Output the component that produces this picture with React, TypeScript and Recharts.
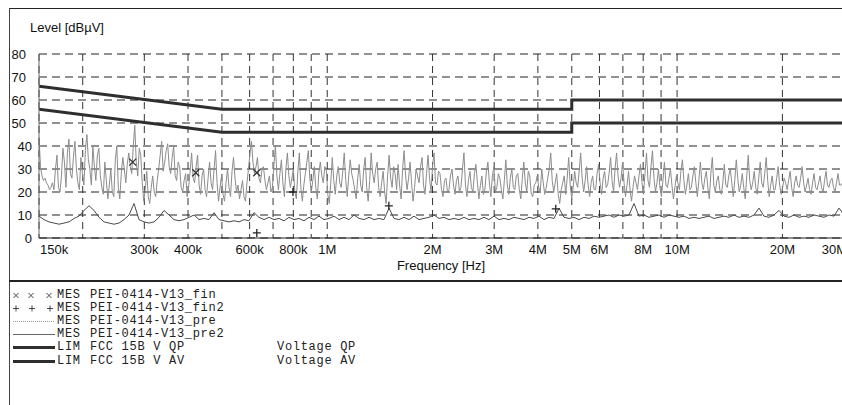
import React from "react";
import { CartesianGrid, ComposedChart, Line, XAxis, YAxis } from "recharts";

// sweep range of the receiver, kHz
const F_START = 150;
const F_STOP = 30000;

// PEI-0414-V13_pre (peak prescan), dBµV, read left to right over the sweep
const PRE_LEVELS = [
  44, 31, 27, 25, 26, 24, 23, 21, 22, 24, 21, 30, 36, 22, 20, 27, 39, 33, 22, 37,
  43, 28, 26, 35, 42, 30, 24, 21, 35, 28, 23, 38, 45, 34, 30, 23, 40, 31, 25, 36,
  39, 27, 22, 19, 33, 25, 17, 23, 30, 20, 18, 34, 40, 22, 17, 28, 35, 30, 24, 32,
  37, 31, 28, 40, 49, 33, 27, 39, 36, 24, 16, 21, 29, 18, 15, 22, 27, 20, 18, 25,
  30, 36, 42, 29, 33, 38, 41, 31, 28, 35, 40, 27, 25, 33, 31, 22, 20, 25, 28, 18,
  22, 29, 37, 26, 24, 31, 36, 23, 19, 27, 30, 21, 18, 26, 33, 24, 21, 30, 38, 24,
  16, 22, 27, 19, 16, 24, 30, 22, 18, 29, 35, 26, 20, 23, 17, 21, 25, 18, 16, 24,
  30, 37, 42, 33, 28, 31, 35, 26, 24, 30, 31, 25, 21, 24, 27, 20, 22, 32, 40, 27,
  21, 28, 34, 24, 18, 30, 37, 27, 22, 26, 30, 20, 17, 29, 37, 22, 16, 23, 28, 33,
  38, 26, 20, 25, 31, 22, 17, 28, 33, 27, 24, 31, 30, 19, 15, 24, 35, 25, 19, 27,
  31, 24, 22, 29, 37, 25, 18, 27, 34, 28, 25, 21, 17, 26, 32, 23, 20, 30, 35, 22,
  16, 25, 37, 28, 24, 30, 33, 22, 18, 24, 29, 20, 15, 27, 36, 26, 22, 31, 28, 21,
  32, 23, 17, 30, 38, 27, 21, 26, 33, 24, 16, 22, 30, 27, 24, 31, 35, 23, 19, 28,
  36, 26, 20, 31, 37, 24, 23, 29, 28, 21, 18, 25, 26, 20, 21, 27, 30, 23, 19, 25,
  27, 20, 22, 30, 37, 23, 18, 25, 29, 22, 20, 28, 32, 24, 17, 23, 27, 19, 21, 29,
  33, 24, 18, 27, 31, 20, 22, 28, 26, 21, 17, 25, 34, 23, 19, 26, 30, 22, 21, 27,
  28, 21, 17, 26, 33, 24, 20, 29, 27, 19, 18, 23, 24, 27, 22, 20, 30, 24, 19, 22,
  26, 30, 37, 25, 20, 24, 28, 19, 15, 21, 24, 27, 19, 26, 35, 23, 17, 22, 29, 24,
  22, 29, 37, 26, 20, 25, 31, 23, 18, 24, 27, 21, 21, 28, 32, 24, 19, 26, 29, 22,
  23, 28, 35, 25, 20, 30, 37, 27, 22, 26, 33, 24, 18, 23, 29, 21, 16, 22, 27, 24,
  21, 27, 32, 24, 19, 28, 37, 25, 22, 31, 38, 26, 20, 24, 30, 22, 18, 25, 33, 23,
  22, 26, 30, 23, 17, 22, 27, 24, 21, 29, 34, 25, 19, 23, 28, 21, 22, 27, 31, 24,
  18, 25, 33, 24, 21, 26, 29, 22, 17, 28, 35, 23, 20, 25, 27, 21, 19, 24, 32, 23,
  22, 27, 30, 24, 18, 25, 34, 26, 20, 23, 28, 22, 17, 27, 36, 25, 21, 24, 29, 22,
  19, 26, 33, 24, 22, 28, 35, 25, 18, 23, 27, 21, 21, 26, 31, 23, 19, 22, 26, 24,
  21, 25, 29, 22, 18, 24, 27, 23, 22, 26, 31, 24, 20, 23, 26, 21, 19, 24, 28, 22,
  21, 24, 27, 22, 20, 25, 29, 23, 22, 25, 26, 22, 20, 24, 28, 23, 23, 24, 25,
];

// PEI-0414-V13_pre2 (average prescan), dBµV
const PRE2_LEVELS = [
  9.5, 8, 7, 6.5, 6, 6.5, 7, 8.5, 9.5, 12,
  14, 12, 9, 7, 6.5, 6, 6.5, 8, 10, 15,
  8, 7, 6.5, 7, 9, 12, 10, 8, 7.5, 8,
  9, 10, 8, 8.5, 8, 11, 8, 7.5, 7, 7.5,
  7, 8, 7.5, 11, 9, 8, 9, 8, 8.5, 7.5,
  9, 8, 8.5, 7.5, 9, 8, 9.5, 8, 8.5, 9.5,
  8, 9, 8, 10, 8.5, 8, 9, 8, 8.5, 8,
  13, 8.5, 8, 9, 8, 9.5, 8, 8.5, 9, 10,
  8.5, 9, 8, 8.5, 8, 9, 8, 8.5, 8, 9,
  8, 9.5, 8, 8.5, 8, 9, 8.5, 8, 9, 8.5,
  9.5, 8, 9, 8.5, 13, 9, 8.5, 9, 8, 9,
  8.5, 9.5, 9, 9.5, 10, 9, 10, 9.5, 10, 15,
  9.5, 10, 9, 9.5, 10, 9, 10, 9.5, 9, 9.5,
  8.5, 9, 8.5, 9, 9.5, 8.5, 9, 9.5, 9, 10,
  9, 9.5, 9, 10, 13, 9.5, 9, 10, 12, 9.5,
  9, 10, 9, 9.5, 9, 10, 9.5, 9, 10, 9.5,
  13, 10,
];

// final measurements
const FIN_FREQS = [278, 421, 629];
const FIN_LEVELS = [33, 28.4, 28.4];
const FIN2_FREQS = [629, 798, 1500, 4500];
const FIN2_LEVELS = [2.2, 20, 14, 12.7];

// FCC 15B limits
const LIM_FREQS = [150, 500, 5000, 5000, 30000];
const QP_LEVELS = [66, 56, 56, 60, 60];
const AV_LEVELS = [56, 46, 46, 50, 50];

const GRID_FREQS = [
  150, 200, 300, 400, 500, 600, 700, 800, 900, 1000,
  2000, 3000, 4000, 5000, 6000, 7000, 8000, 9000, 10000, 20000, 30000,
];
const LABEL_FREQS = [150, 300, 400, 600, 800, 1000, 2000, 3000, 4000, 5000, 6000, 8000, 10000, 20000, 30000];
const LABEL_TEXTS = ["150k", "300k", "400k", "600k", "800k", "1M", "2M", "3M", "4M", "5M", "6M", "8M", "10M", "20M", "30M"];
const LEVEL_TICKS = [0, 10, 20, 30, 40, 50, 60, 70, 80];

const LEGEND_KINDS = ["x", "+", "pre", "pre2", "lim", "lim"];
const LEGEND_TAGS = ["MES", "MES", "MES", "MES", "LIM", "LIM"];
const LEGEND_NAMES = [
  "PEI-0414-V13_fin",
  "PEI-0414-V13_fin2",
  "PEI-0414-V13_pre",
  "PEI-0414-V13_pre2",
  "FCC 15B V QP",
  "FCC 15B V AV",
];
const LEGEND_NOTES = ["", "", "", "", "Voltage QP", "Voltage AV"];

const SANS = "'Liberation Sans', Arial, sans-serif";
const MONO = "'Liberation Mono', 'Courier New', monospace";

// receiver sweep points are log spaced between start and stop
const sweep = (levels: number[]) =>
  levels.map((v, i) => ({ f: F_START * Math.pow(F_STOP / F_START, i / (levels.length - 1)), v }));
const pairs = (fs: number[], vs: number[]) => fs.map((f, i) => ({ f, v: vs[i] }));

const preData = sweep(PRE_LEVELS);
const pre2Data = sweep(PRE2_LEVELS);
const finData = pairs(FIN_FREQS, FIN_LEVELS);
const fin2Data = pairs(FIN2_FREQS, FIN2_LEVELS);
const qpData = pairs(LIM_FREQS, QP_LEVELS);
const avData = pairs(LIM_FREQS, AV_LEVELS);

function CrossDot(props: any) {
  const { cx, cy } = props;
  if (cx == null || cy == null) return null;
  const s = 3.5;
  return (
    <path
      d={`M${cx - s},${cy - s}L${cx + s},${cy + s}M${cx + s},${cy - s}L${cx - s},${cy + s}`}
      stroke="#333"
      strokeWidth={1.3}
      fill="none"
    />
  );
}

function PlusDot(props: any) {
  const { cx, cy } = props;
  if (cx == null || cy == null) return null;
  const s = 4;
  return (
    <path
      d={`M${cx - s},${cy}L${cx + s},${cy}M${cx},${cy - s}L${cx},${cy + s}`}
      stroke="#222"
      strokeWidth={1.3}
      fill="none"
    />
  );
}

function FreqTick(props: any) {
  const { x, payload } = props;
  const idx = LABEL_FREQS.indexOf(payload.value);
  if (idx < 0) return null;
  let anchor = "middle";
  let dx = 0;
  if (payload.value === F_START) {
    anchor = "start";
    dx = 1;
  } else if (payload.value === F_STOP) {
    anchor = "end";
    dx = 3;
  }
  return (
    <text x={x + dx} y={254} textAnchor={anchor} fontSize={13} fontFamily={SANS} fill="#111">
      {LABEL_TEXTS[idx]}
    </text>
  );
}

function LevelTick(props: any) {
  const { y, payload } = props;
  const v = payload.value;
  return (
    <text x={v >= 50 ? 26 : 32} y={y} dy={4.6} textAnchor="end" fontSize={13} fontFamily={SANS} fill="#111">
      {v}
    </text>
  );
}

function LegendSymbol({ kind }: { kind: string }) {
  if (kind === "x") {
    return (
      <svg width={44} height={13} style={{ display: "block" }}>
        {[4, 19, 37].map((x) => (
          <path key={x} d={`M${x - 2.5},4L${x + 2.5},9M${x + 2.5},4L${x - 2.5},9`} stroke="#444" strokeWidth={1} />
        ))}
      </svg>
    );
  }
  if (kind === "+") {
    return (
      <svg width={44} height={13} style={{ display: "block" }}>
        {[4, 20, 38].map((x) => (
          <path key={x} d={`M${x - 3},6.5L${x + 3},6.5M${x},3.5L${x},9.5`} stroke="#444" strokeWidth={1} />
        ))}
      </svg>
    );
  }
  const stroke = kind === "lim" ? "#2e2e2e" : kind === "pre" ? "#9a9a9a" : "#666";
  const w = kind === "lim" ? 3 : 1;
  return (
    <svg width={44} height={13} style={{ display: "block" }}>
      <line x1={1} x2={43} y1={6.5} y2={6.5} stroke={stroke} strokeWidth={w} strokeDasharray={kind === "pre" ? "1 1" : undefined} />
    </svg>
  );
}

export default function App() {
  return (
    <div
      style={{
        position: "absolute",
        left: 0,
        top: 0,
        width: 842,
        height: 405,
        overflow: "hidden",
        background: "#fff",
      }}
    >
      {/* frame */}
      <div style={{ position: "absolute", left: 9, top: 8, width: 833, height: 1, background: "#222" }} />
      <div style={{ position: "absolute", left: 9, top: 8, width: 1, height: 397, background: "#444" }} />
      <div style={{ position: "absolute", left: 9, top: 280, width: 833, height: 2, background: "#222" }} />

      <div style={{ position: "absolute", left: 30, top: 20, fontFamily: SANS, fontSize: 13, lineHeight: "15px", color: "#111" }}>
        Level [dBµV]
      </div>
      <div
        style={{
          position: "absolute",
          left: 441,
          top: 258,
          transform: "translateX(-50%)",
          fontFamily: SANS,
          fontSize: 13,
          lineHeight: "15px",
          color: "#111",
          whiteSpace: "nowrap",
        }}
      >
        Frequency [Hz]
      </div>

      <div style={{ position: "absolute", left: 0, top: 0 }}>
        <ComposedChart width={850} height={405} margin={{ top: 54, right: 6, bottom: 137, left: 9 }}>
          <CartesianGrid horizontal={false} stroke="#333" strokeDasharray="7 5" />
          <CartesianGrid vertical={false} stroke="#222" strokeDasharray="8 5" />
          <XAxis
            type="number"
            dataKey="f"
            scale="log"
            domain={[F_START, F_STOP]}
            allowDataOverflow
            ticks={GRID_FREQS}
            interval={0}
            tick={<FreqTick />}
            tickLine={false}
            axisLine={{ stroke: "#222" }}
            height={30}
          />
          <YAxis
            type="number"
            domain={[0, 80]}
            ticks={LEVEL_TICKS}
            interval={0}
            tick={<LevelTick />}
            tickLine={false}
            axisLine={{ stroke: "#666" }}
            width={30}
          />

          <Line data={preData} dataKey="v" type="linear" stroke="#8c8c8c" strokeWidth={1} dot={false} activeDot={false} isAnimationActive={false} />
          <Line data={pre2Data} dataKey="v" type="linear" stroke="#4a4a4a" strokeWidth={1} dot={false} activeDot={false} isAnimationActive={false} />
          <Line data={qpData} dataKey="v" type="linear" stroke="#2e2e2e" strokeWidth={3} dot={false} activeDot={false} isAnimationActive={false} />
          <Line data={avData} dataKey="v" type="linear" stroke="#2e2e2e" strokeWidth={3} dot={false} activeDot={false} isAnimationActive={false} />
          <Line data={finData} dataKey="v" stroke="none" dot={<CrossDot />} activeDot={false} isAnimationActive={false} />
          <Line data={fin2Data} dataKey="v" stroke="none" dot={<PlusDot />} activeDot={false} isAnimationActive={false} />
        </ComposedChart>
      </div>

      {/* legend */}
      {LEGEND_KINDS.map((kind, i) => (
        <div
          key={i}
          style={{
            position: "absolute",
            left: 0,
            top: 289 + i * 13.1,
            height: 13,
            width: 842,
            fontFamily: MONO,
            fontSize: 12,
            letterSpacing: 0.7,
            lineHeight: "13px",
            color: "#222",
            whiteSpace: "pre",
          }}
        >
          <div style={{ position: "absolute", left: 12, top: 0 }}>
            <LegendSymbol kind={kind} />
          </div>
          <span style={{ position: "absolute", left: 57 }}>{LEGEND_TAGS[i]}</span>
          <span style={{ position: "absolute", left: 90 }}>{LEGEND_NAMES[i]}</span>
          <span style={{ position: "absolute", left: 277 }}>{LEGEND_NOTES[i]}</span>
        </div>
      ))}
    </div>
  );
}
